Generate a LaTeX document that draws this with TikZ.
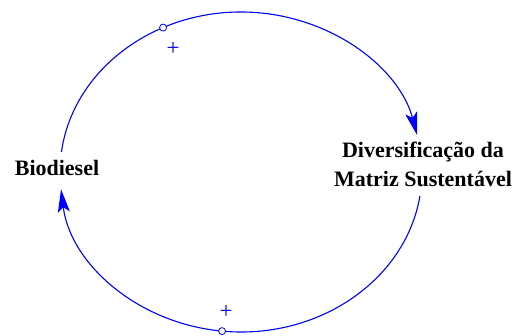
\documentclass[tikz,border=0pt]{standalone}
\usepackage{fontspec}
\setmainfont{Liberation Serif}
\usetikzlibrary{arrows.meta,calc}
\tikzset{
  varlabel/.style={font=\fontsize{22}{29}\selectfont\bfseries, text=black, inner sep=0pt, align=center},
  linkline/.style={draw=blue, line width=1.1pt, -{Stealth[length=23pt,width=12pt,inset=5pt]}},
  polarity/.style={text=blue, font=\fontsize{23}{23}\selectfont, inner sep=0pt},
  hollow/.style={circle, draw=blue, fill=white, line width=0.8pt, minimum size=7pt, inner sep=0pt}
}
\begin{document}
\begin{tikzpicture}[x=1pt,y=1pt]
\useasboundingbox (0,0) rectangle (515,-336);
% variables
\node[varlabel, anchor=base] (bio) at (57,-176) {Biodiesel};
\node[varlabel] (div) at (423,-164) {Diversificação da\\Matriz Sustentável};
% ellipse geometry: center (241,-172), rx 181, ry 160
\coordinate (ctr) at (241,-172);
\coordinate (s1) at ($(ctr)+(172.8:181 and 160)$);
\coordinate (s2) at ($(ctr)+(-8.6:181 and 160)$);
\draw[linkline] (s1) arc[start angle=172.8, end angle=13.3, x radius=181, y radius=160];
\draw[linkline] (s2) arc[start angle=-8.6, end angle=-173.8, x radius=181, y radius=160];
% hollow markers on links
\node[hollow] (h1) at ($(ctr)+(115.5:181 and 160)$) {};
\node[hollow] (h2) at ($(ctr)+(-96:181 and 160)$) {};
% polarities
\node[polarity] (p1) at (173,-49) {+};
\node[polarity] (p2) at (226,-312) {+};
\end{tikzpicture}
\end{document}
